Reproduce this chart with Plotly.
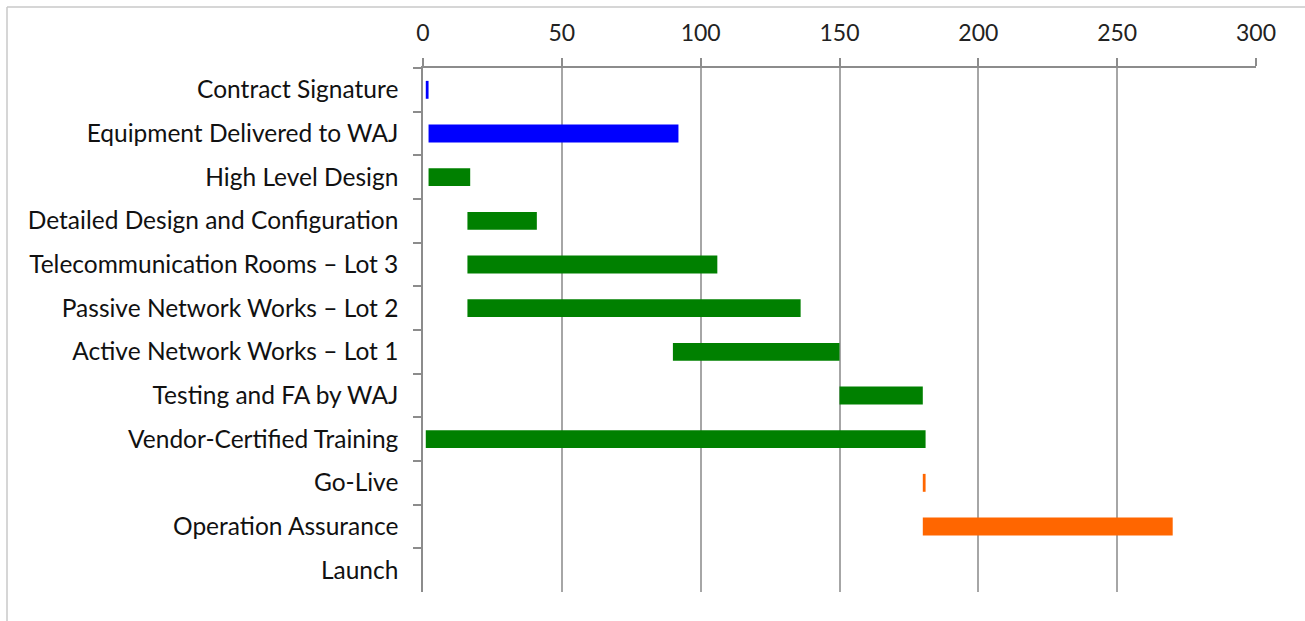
import plotly.graph_objects as go

tasks = ["Contract Signature", "Equipment Delivered to WAJ", "High Level Design",
         "Detailed Design and Configuration", "Telecommunication Rooms \u2013 Lot 3",
         "Passive Network Works \u2013 Lot 2", "Active Network Works \u2013 Lot 1",
         "Testing and FA by WAJ", "Vendor-Certified Training", "Go-Live",
         "Operation Assurance", "Launch"]
start = [1, 2, 2, 16, 16, 16, 90, 150, 1, 180, 180, 270]
duration = [1, 90, 15, 25, 90, 120, 60, 30, 180, 1, 90, 0]
colors = ["#0000FF", "#0000FF", "#008000", "#008000", "#008000", "#008000",
          "#008000", "#008000", "#008000", "#FF6600", "#FF6600", "#FF6600"]
x_ticks = [0, 50, 100, 150, 200, 250, 300]

fig = go.Figure(go.Bar(
    y=tasks, x=duration, base=start, orientation="h",
    marker=dict(color=colors, line=dict(width=0)),
    hoverinfo="skip",
))

W, H = 1305, 621
L, R, T, B = 423, 49, 68, 29
pw, ph = W - L - R, H - T - B

fig.update_layout(
    width=W, height=H,
    margin=dict(l=L, r=R, t=T, b=B),
    paper_bgcolor="white", plot_bgcolor="white",
    bargap=0.59, showlegend=False,
    xaxis=dict(
        side="top", range=[0, 300], tickvals=x_ticks,
        showgrid=True, gridcolor="#a6a6a6", gridwidth=1.5,
        showline=True, linecolor="#8c8c8c", linewidth=1.5,
        ticks="outside", ticklen=8, tickcolor="#8c8c8c", tickwidth=1.5,
        tickfont=dict(family="Lato", size=23, color="#222222"),
        ticklabelstandoff=8, zeroline=False, fixedrange=True,
    ),
    yaxis=dict(
        type="category", categoryorder="array", categoryarray=tasks,
        autorange="reversed", showgrid=False,
        showline=True, linecolor="#8c8c8c", linewidth=1.5,
        ticks="outside", ticklen=8, tickcolor="#8c8c8c", tickwidth=1.5,
        tickson="boundaries",
        tickfont=dict(family="Lato", size=24.5, color="#111111"),
        ticklabelstandoff=18, fixedrange=True,
    ),
    shapes=[
        dict(type="line", xref="paper", yref="paper",
             x0=(7 - L) / pw, x1=(W + 5 - L) / pw,
             y0=(H - B - 7) / ph, y1=(H - B - 7) / ph,
             line=dict(color="#c8c8c8", width=1.5)),
        dict(type="line", xref="paper", yref="paper",
             x0=(7 - L) / pw, x1=(7 - L) / pw,
             y0=(H - B - 7) / ph, y1=(H - B + 40 - H) / ph - 1,
             line=dict(color="#c8c8c8", width=1.5)),
    ],
)

fig.write_html("out.html")
